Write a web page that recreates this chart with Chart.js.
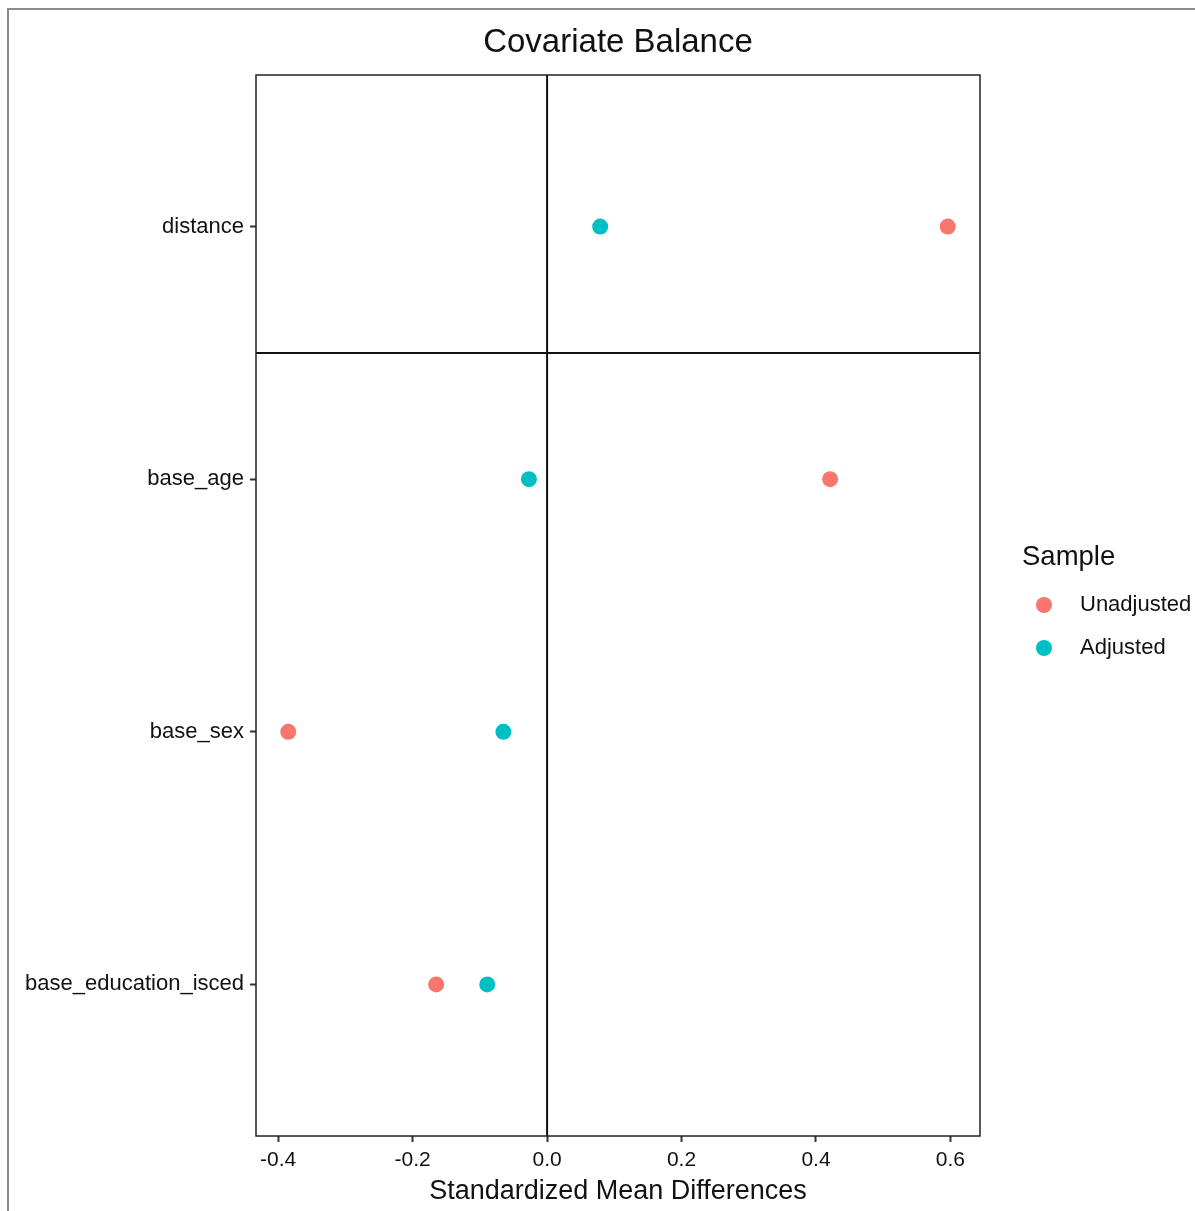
<!DOCTYPE html>
<html>
<head>
<meta charset="utf-8">
<script src="https://cdn.jsdelivr.net/npm/chart.js@4"></script>
<style>
  html, body { margin: 0; padding: 0; background: #fff; }
  #wrap { position: relative; width: 1195px; height: 1211px; }
  #frame { position: absolute; left: 7px; top: 8px; right: 0; bottom: 0;
           border-top: 2px solid #8a8a8a; border-left: 2px solid #8a8a8a; pointer-events: none; }
  canvas { position: absolute; left: 0; top: 0; }
</style>
</head>
<body>
<div id="wrap">
  <canvas id="chart" width="1195" height="1211"></canvas>
  <div id="frame"></div>
</div>
<script>
"use strict";

// Covariates, top to bottom.
const covariates = ["distance", "base_age", "base_sex", "base_education_isced"];
const unadjusted = [0.596, 0.421, -0.385, -0.165];
const adjusted = [0.079, -0.027, -0.065, -0.089];
const xTicks = [-0.4, -0.2, 0.0, 0.2, 0.4, 0.6];
const xRange = [-0.433, 0.644];
const yRange = [-0.6, 3.6];
const splitAt = 0.5; // horizontal divider between distance and the rest

const RED = "#F8766D";
const TEAL = "#00BFC4";
const FONT = "'Liberation Sans', Arial, sans-serif";

const toPoints = (vals) => vals.map((v, i) => ({ x: v, y: i }));

// Title over the panel, black panel border, ggplot-style legend on the right.
const extras = {
  id: "extras",
  afterDatasetsDraw(chart) {
    const { ctx, chartArea: a } = chart;
    ctx.save();
    ctx.strokeStyle = "#222";
    ctx.lineWidth = 1.5;
    ctx.strokeRect(a.left, a.top, a.right - a.left, a.bottom - a.top);

    ctx.fillStyle = "#111";
    ctx.textBaseline = "middle";
    ctx.textAlign = "center";
    ctx.font = `33px ${FONT}`;
    ctx.fillText("Covariate Balance", (a.left + a.right) / 2, 43);

    ctx.textAlign = "left";
    ctx.font = `27.5px ${FONT}`;
    ctx.fillText("Sample", 1022, 557);
    ctx.font = `22px ${FONT}`;
    const items = chart.data.datasets.filter((d) => d.type === "scatter");
    items.forEach((d, i) => {
      const y = 605 + i * 43;
      ctx.beginPath();
      ctx.fillStyle = d.backgroundColor;
      ctx.arc(1044, y, 8, 0, Math.PI * 2);
      ctx.fill();
      ctx.fillStyle = "#111";
      ctx.fillText(d.label, 1080, y);
    });
    ctx.restore();
  },
};

new Chart(document.getElementById("chart"), {
  data: {
    datasets: [
      {
        type: "scatter",
        label: "Unadjusted",
        data: toPoints(unadjusted),
        backgroundColor: RED,
        borderWidth: 0,
        pointRadius: 8,
        order: 1,
      },
      {
        type: "scatter",
        label: "Adjusted",
        data: toPoints(adjusted),
        backgroundColor: TEAL,
        borderWidth: 0,
        pointRadius: 8,
        order: 1,
      },
      {
        type: "line",
        label: "zero",
        data: [{ x: 0, y: yRange[0] }, { x: 0, y: yRange[1] }],
        borderColor: "#111",
        borderWidth: 2,
        pointRadius: 0,
        order: 2,
      },
      {
        type: "line",
        label: "split",
        data: [{ x: xRange[0], y: splitAt }, { x: xRange[1], y: splitAt }],
        borderColor: "#111",
        borderWidth: 2,
        pointRadius: 0,
        order: 2,
      },
    ],
  },
  options: {
    responsive: false,
    animation: false,
    layout: { padding: { left: 0, top: 75, right: 215, bottom: 0 } },
    plugins: {
      legend: { display: false },
      tooltip: { enabled: false },
      title: { display: false },
    },
    scales: {
      x: {
        type: "linear",
        min: xRange[0],
        max: xRange[1],
        afterBuildTicks: (s) => { s.ticks = xTicks.map((v) => ({ value: v })); },
        afterFit: (s) => { s.height = 75; },
        ticks: {
          color: "#111",
          font: { family: FONT, size: 21 },
          padding: 6,
          callback: (v) => v.toFixed(1),
        },
        grid: { drawOnChartArea: false, drawTicks: true, tickLength: 6, tickWidth: 2, color: "#333" },
        border: { display: false },
        title: {
          display: true,
          text: "Standardized Mean Differences",
          color: "#111",
          font: { family: FONT, size: 27 },
          padding: { top: 0, bottom: 3 },
        },
      },
      y: {
        type: "linear",
        reverse: true,
        min: yRange[0],
        max: yRange[1],
        afterBuildTicks: (s) => { s.ticks = covariates.map((_, i) => ({ value: i })); },
        afterFit: (s) => { s.width = 256; },
        ticks: {
          color: "#111",
          font: { family: FONT, size: 22 },
          padding: 6,
          callback: (v) => covariates[v],
        },
        grid: { drawOnChartArea: false, drawTicks: true, tickLength: 6, tickWidth: 2, color: "#333" },
        border: { display: false },
      },
    },
  },
  plugins: [extras],
});
</script>
</body>
</html>
